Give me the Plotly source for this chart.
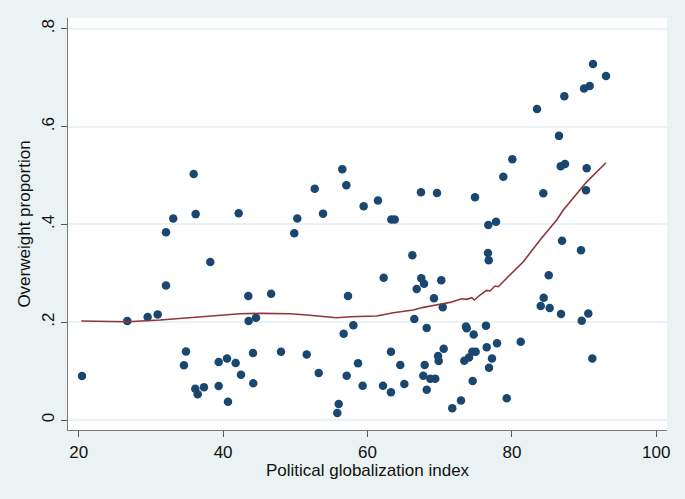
import plotly.graph_objects as go

# Scatter data: political globalization index vs overweight proportion
glob_index = [20.46, 26.73, 29.55, 30.94, 32.09, 33.10, 32.09, 35.93, 36.20, 38.23,
              34.86, 34.58, 36.15, 36.48, 37.35, 39.39, 40.54, 41.74, 42.48, 39.39,
              40.68, 42.16, 43.49, 43.54, 44.56, 44.14, 44.18, 46.65, 48.02, 49.86,
              50.28, 51.58, 52.69, 53.24, 53.84, 56.51, 57.07, 57.30, 56.70, 58.04,
              57.12, 58.69, 56.01, 55.82, 59.47, 59.33, 61.45, 62.24, 63.25, 64.54,
              62.15, 63.25, 63.30, 63.77, 65.10, 66.21, 66.48, 67.41, 67.45, 67.83,
              66.81, 68.20, 69.63, 69.21, 70.22, 70.42, 70.55, 69.77, 69.86, 67.92,
              67.73, 68.70, 69.39, 68.20, 71.74, 72.95, 73.64, 73.74, 74.71, 74.89,
              74.52, 74.98, 73.41, 74.06, 74.57, 76.41, 76.51, 76.83, 77.24, 77.94,
              76.69, 76.79, 76.73, 77.80, 78.81, 80.06, 79.28, 81.22, 83.48, 84.35,
              84.40, 83.99, 85.23, 85.10, 86.52, 86.76, 87.35, 86.94, 86.80, 87.26,
              89.57, 89.67, 90.58, 90.36, 90.26, 89.99, 90.77, 91.23, 93.03, 91.14]
overweight = [0.090, 0.2025, 0.2106, 0.216, 0.384, 0.412, 0.275, 0.503, 0.421, 0.323,
              0.140, 0.112, 0.064, 0.0525, 0.067, 0.1186, 0.126, 0.1166, 0.0927, 0.0695,
              0.0375, 0.4226, 0.2536, 0.2025, 0.209, 0.137, 0.075, 0.258, 0.1397, 0.382,
              0.412, 0.134, 0.473, 0.096, 0.422, 0.513, 0.480, 0.2536, 0.1766, 0.194,
              0.0906, 0.116, 0.0327, 0.0143, 0.437, 0.070, 0.449, 0.291, 0.1397, 0.1125,
              0.070, 0.0566, 0.410, 0.410, 0.0736, 0.337, 0.2065, 0.4656, 0.290, 0.2788,
              0.268, 0.188, 0.464, 0.2488, 0.286, 0.2304, 0.1459, 0.131, 0.1207, 0.1125,
              0.0906, 0.0845, 0.0845, 0.062, 0.0239, 0.040, 0.191, 0.1875, 0.175, 0.4554,
              0.1397, 0.1397, 0.1213, 0.128, 0.0798, 0.193, 0.1486, 0.107, 0.126, 0.1568,
              0.3415, 0.3265, 0.3988, 0.4056, 0.4976, 0.533, 0.0443, 0.160, 0.636, 0.4636,
              0.250, 0.233, 0.229, 0.296, 0.581, 0.5188, 0.5235, 0.3667, 0.2168, 0.662,
              0.347, 0.203, 0.218, 0.515, 0.4697, 0.678, 0.683, 0.728, 0.7035, 0.126]

# Lowess smooth
lowess_x = [20.36, 26.7, 31.3, 36.8, 39.57, 42.34, 45.1, 49.27, 51.6, 55.7, 57.58,
            61.27, 62.19, 63.57, 66.34, 67.73, 70.04, 71.43, 73.05, 73.74, 74.43,
            74.79, 75.58, 76.5, 76.96, 77.66, 78.11, 79.28, 81.58, 83.9, 86.2,
            87.12, 88.5, 90.36, 93.03]
lowess_y = [0.2025, 0.201, 0.2045, 0.2106, 0.2147, 0.2174, 0.2181, 0.2174, 0.2147,
            0.209, 0.2113, 0.2127, 0.2154, 0.2195, 0.225, 0.2304, 0.2366, 0.2405,
            0.248, 0.2468, 0.250, 0.2454, 0.2556, 0.265, 0.2638, 0.274, 0.2726,
            0.2897, 0.3237, 0.368, 0.409, 0.4294, 0.4533, 0.487, 0.526]

x_ticks = [20, 40, 60, 80, 100]
y_ticks = [0, 0.2, 0.4, 0.6, 0.8]
y_ticktext = ["0", ".2", ".4", ".6", ".8"]

FONT = "Liberation Sans, Arial, sans-serif"
BG = "#EAF2F3"

fig = go.Figure()
fig.add_trace(go.Scatter(
    x=glob_index, y=overweight, mode="markers",
    marker=dict(color="#1A476F", size=8.5, line=dict(width=0)),
    showlegend=False,
))
fig.add_trace(go.Scatter(
    x=lowess_x, y=lowess_y, mode="lines",
    line=dict(color="#90353B", width=1.6),
    showlegend=False,
))

fig.update_layout(
    width=685, height=499,
    margin=dict(l=68, r=18, t=18, b=69),
    paper_bgcolor=BG, plot_bgcolor="white",
    font=dict(family=FONT, size=17, color="#111111"),
)
fig.update_xaxes(
    range=[18.52, 101.48], tickvals=x_ticks, automargin=False,
    showgrid=False, zeroline=False,
    showline=True, linecolor="#7a7a7a", linewidth=1.2,
    ticks="outside", ticklen=6, tickcolor="#555555", tickwidth=1,
    tickfont=dict(size=17),
    title=dict(text="Political globalization index", font=dict(size=17), standoff=0),
)
fig.update_yaxes(
    range=[-0.0204, 0.822], tickvals=y_ticks, ticktext=y_ticktext,
    tickangle=-90, automargin=False,
    showgrid=True, gridcolor=BG, gridwidth=1.5, zeroline=False,
    showline=True, linecolor="#7a7a7a", linewidth=1.2,
    ticks="outside", ticklen=6, tickcolor="#555555", tickwidth=1,
    tickfont=dict(size=17),
    title=dict(text="Overweight proportion", font=dict(size=17), standoff=4),
)

fig.write_html(
    "out.html",
    config={"displayModeBar": False},
    post_script="document.body.style.margin='0';document.body.style.background='#EAF2F3';",
)
